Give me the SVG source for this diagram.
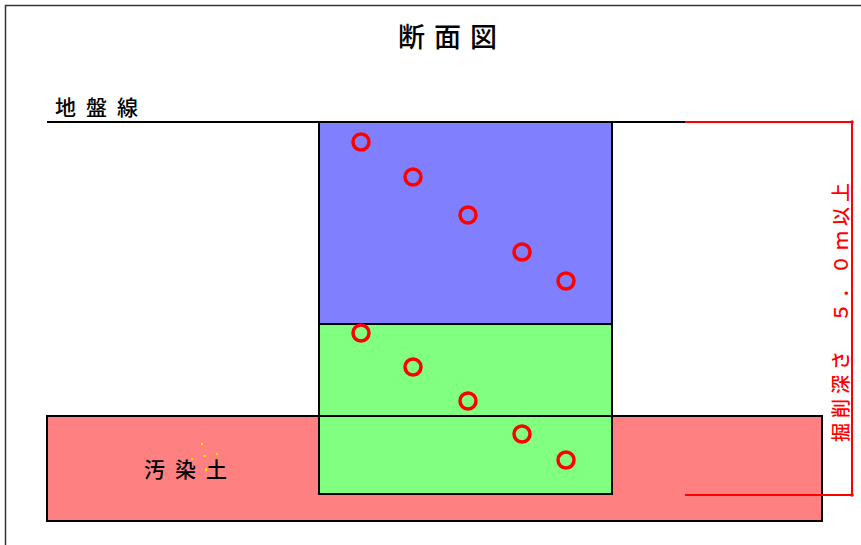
<svg xmlns="http://www.w3.org/2000/svg" width="861" height="545" viewBox="0 0 861 545">
<style>
.lbl{font-family:"Noto Sans CJK JP","Noto Sans CJK SC",sans-serif;fill:#000;font-weight:500}
.blk{stroke:#000;stroke-width:2}
.pt{fill:none;stroke:#FF0000;stroke-width:3.5}
.dim{stroke:#FF0000;stroke-width:2;fill:none}
</style>
<rect width="861" height="545" fill="#fff"/>
<rect x="5.5" y="5.5" width="900" height="600" fill="none" stroke="#333" stroke-width="1.5"/>
<text class="lbl" x="452" y="47" font-size="27" letter-spacing="9" text-anchor="middle">断面図</text>
<g id="ground">
<text class="lbl" x="55" y="115" font-size="21" letter-spacing="10">地盤線</text>
<line class="blk" x1="47" y1="122" x2="820" y2="122"/>
</g>
<g id="contaminated-soil">
<rect x="47" y="416" width="775" height="105" fill="#FF8080" class="blk"/>
<text class="lbl" x="144" y="477" font-size="21" letter-spacing="10">汚染土</text>
<g fill="#FFE000">
<rect x="201" y="443" width="2" height="2"/>
<rect x="203" y="455" width="3" height="2"/>
<rect x="216" y="453" width="2" height="2"/>
<rect x="191" y="458" width="2" height="2"/>
<rect x="205" y="468" width="2" height="3"/>
</g>
</g>
<g id="excavation-upper">
<rect x="319" y="122" width="293" height="202" fill="#8080FF" class="blk"/>
</g>
<g id="excavation-lower">
<rect x="319" y="324" width="293" height="92" fill="#80FF80" class="blk"/>
<rect x="319" y="416" width="293" height="78" fill="#80FF80" class="blk"/>
</g>
<g id="sample-points">
<circle class="pt" cx="361" cy="142" r="8"/>
<circle class="pt" cx="413" cy="177" r="8"/>
<circle class="pt" cx="468" cy="215" r="8"/>
<circle class="pt" cx="522" cy="252" r="8"/>
<circle class="pt" cx="566" cy="281" r="8"/>
<circle class="pt" cx="361" cy="333" r="8"/>
<circle class="pt" cx="413" cy="367" r="8"/>
<circle class="pt" cx="468" cy="401" r="8"/>
<circle class="pt" cx="522" cy="434" r="8"/>
<circle class="pt" cx="566" cy="460" r="8"/>
</g>
<g id="connectors">
<line class="dim" x1="685" y1="122" x2="852" y2="122"/>
<line class="dim" x1="685" y1="495" x2="852" y2="495"/>
<line class="dim" x1="852" y1="122" x2="852" y2="495"/>
<circle cx="852" cy="122" r="1.8" fill="#FF0000"/>
<circle cx="852" cy="495" r="1.8" fill="#FF0000"/>
</g>
<g id="depth-label">
<text class="lbl" transform="translate(848,310) rotate(-90)" font-size="19" letter-spacing="5" text-anchor="middle" style="fill:#FF0000">掘削深さ　５．０ｍ以上</text>
</g>
</svg>
